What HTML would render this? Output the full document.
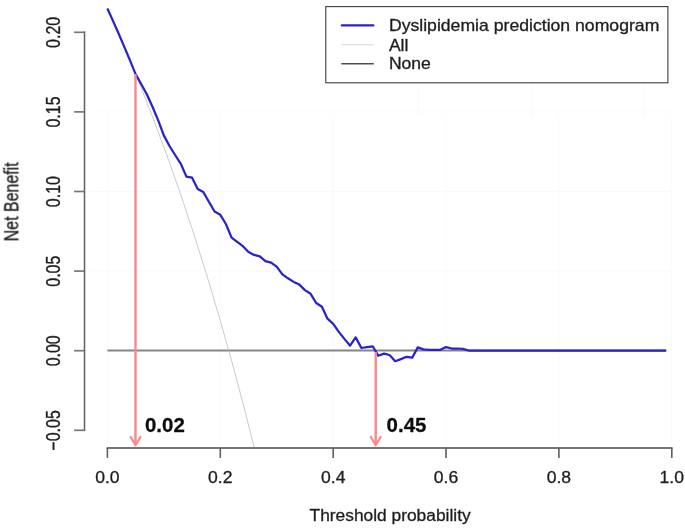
<!DOCTYPE html>
<html><head><meta charset="utf-8"><title>Decision curve</title>
<style>html,body{margin:0;padding:0;background:#fff;}body{width:685px;height:530px;overflow:hidden;font-family:"Liberation Sans",sans-serif;}svg{display:block;}</style>
</head><body>
<svg width="685" height="530" viewBox="0 0 685 530" font-family="Liberation Sans, sans-serif" fill="#1f1f1f" stroke="#1f1f1f" stroke-width="0.3">
<defs><filter id="soft" x="0" y="0" width="685" height="530" filterUnits="userSpaceOnUse"><feGaussianBlur stdDeviation="0.6"/></filter></defs>
<rect width="685" height="530" fill="#fff" stroke="none"/>
<g filter="url(#soft)">
<g stroke="#fafafa" stroke-width="1" fill="none">
<path d="M107.4,116 V447"/>
<path d="M220.3,116 V447"/>
<path d="M333.2,116 V447"/>
<path d="M446.0,116 V447"/>
<path d="M558.9,116 V447"/>
<path d="M671.8,116 V447"/>
<path d="M418.5,84 V116"/>
<path d="M531.4,84 V116"/>
<path d="M644.3,84 V116"/>
<path d="M90,111.9 H673"/>
<path d="M90,191.5 H673"/>
<path d="M90,271.1 H673"/>
</g>
<line x1="107.4" y1="350.6" x2="666.2" y2="350.6" stroke="#858585" stroke-width="2.0"/>
<polyline points="107.4,8.3 110.2,14.6 113.0,20.9 115.9,27.3 118.7,33.8 121.5,40.3 124.3,46.9 127.2,53.6 130.0,60.4 132.8,67.2 135.6,74.1 138.4,81.0 141.3,88.1 144.1,95.2 146.9,102.4 149.7,109.6 152.6,117.0 155.4,124.4 158.2,131.9 161.0,139.5 163.8,147.2 166.7,154.9 169.5,162.8 172.3,170.7 175.1,178.7 178.0,186.8 180.8,195.0 183.6,203.3 186.4,211.7 189.2,220.2 192.1,228.8 194.9,237.5 197.7,246.4 200.5,255.3 203.3,264.3 206.2,273.4 209.0,282.6 211.8,292.0 214.6,301.5 217.5,311.0 220.3,320.7 223.1,330.6 225.9,340.5 228.7,350.6 231.6,360.8 234.4,371.1 237.2,381.6 240.0,392.2 242.9,403.0 245.7,413.9 248.5,424.9 251.3,436.1 254.0,447.0" fill="none" stroke="#b8b8b8" stroke-width="0.75"/>
<polyline points="107.4,8.5 113.0,20.9 118.7,33.8 124.3,46.9 130.0,60.4 135.6,74.1 141.3,84.2 146.9,94.5 152.6,107.0 158.2,120.4 163.8,135.4 169.5,146.0 175.1,155.0 180.8,163.8 186.4,176.6 192.1,177.7 197.7,188.9 203.3,192.0 209.0,202.0 214.6,211.5 220.3,214.8 225.9,224.0 231.6,237.6 237.2,241.8 242.9,246.2 248.5,252.0 254.1,254.9 259.8,256.4 265.4,261.1 271.1,262.7 276.7,266.6 282.4,274.3 288.0,278.3 293.7,281.9 299.3,284.6 304.9,290.1 310.6,293.8 316.2,303.0 321.9,306.7 327.5,318.7 333.2,323.8 338.8,331.9 344.4,338.9 350.1,345.7 355.7,337.4 361.4,348.0 367.0,347.1 372.7,346.3 378.3,355.8 384.0,353.6 389.6,355.0 395.2,361.2 400.9,359.1 406.5,356.8 412.2,357.7 417.8,347.4 423.5,349.4 429.1,349.8 434.8,349.9 440.4,349.8 446.0,347.1 451.7,348.5 457.3,348.5 463.0,348.8 468.6,350.5 474.3,350.5 479.9,350.5 485.5,350.5 491.2,350.5 496.8,350.5 502.5,350.5 508.1,350.5 513.8,350.5 519.4,350.5 525.1,350.5 530.7,350.5 536.3,350.5 542.0,350.5 547.6,350.5 553.3,350.5 558.9,350.5 564.6,350.5 570.2,350.5 575.9,350.5 581.5,350.5 587.1,350.5 592.8,350.5 598.4,350.5 604.1,350.5 609.7,350.5 615.4,350.5 621.0,350.5 626.6,350.5 632.3,350.5 637.9,350.5 643.6,350.5 649.2,350.5 654.9,350.5 660.5,350.5 666.2,350.5" fill="none" stroke="#2a20cc" stroke-width="2.25" stroke-linejoin="round" stroke-linecap="butt"/>
<line x1="135.5" y1="74.0" x2="135.5" y2="445.0" stroke="#fc8787" stroke-width="2.4"/>
<polyline points="130.6,437.0 135.5,445.3 140.4,437.0" fill="none" stroke="#fc8787" stroke-width="2.2" stroke-linejoin="round" stroke-linecap="round"/>
<line x1="375.7" y1="352.0" x2="375.7" y2="445.0" stroke="#fc8787" stroke-width="2.4"/>
<polyline points="370.8,437.0 375.7,445.3 380.59999999999997,437.0" fill="none" stroke="#fc8787" stroke-width="2.2" stroke-linejoin="round" stroke-linecap="round"/>
<g fill="none">
<path d="M84.5,31.5 V431.1" stroke="#5e5e5e" stroke-width="1.5"/>
<path d="M74.1,32.3 H85.2" stroke="#747474" stroke-width="1.65"/>
<path d="M74.1,111.9 H85.2" stroke="#747474" stroke-width="1.65"/>
<path d="M74.1,191.5 H85.2" stroke="#747474" stroke-width="1.65"/>
<path d="M74.1,271.1 H85.2" stroke="#747474" stroke-width="1.65"/>
<path d="M74.1,350.7 H85.2" stroke="#747474" stroke-width="1.65"/>
<path d="M74.1,430.3 H85.2" stroke="#747474" stroke-width="1.65"/>
<path d="M106.65,448.0 H672.55" stroke="#747474" stroke-width="2.0"/>
<path d="M107.4,448.0 V457.9" stroke="#5e5e5e" stroke-width="1.6"/>
<path d="M220.3,448.0 V457.9" stroke="#5e5e5e" stroke-width="1.6"/>
<path d="M333.2,448.0 V457.9" stroke="#5e5e5e" stroke-width="1.6"/>
<path d="M446.0,448.0 V457.9" stroke="#5e5e5e" stroke-width="1.6"/>
<path d="M558.9,448.0 V457.9" stroke="#5e5e5e" stroke-width="1.6"/>
<path d="M671.8,448.0 V457.9" stroke="#5e5e5e" stroke-width="1.6"/>
</g>
<text transform="translate(107.4,482.8) scale(1.0980,1)" font-size="16" text-anchor="middle" >0.0</text>
<text transform="translate(220.3,482.8) scale(1.0980,1)" font-size="16" text-anchor="middle" >0.2</text>
<text transform="translate(333.2,482.8) scale(1.0980,1)" font-size="16" text-anchor="middle" >0.4</text>
<text transform="translate(446.0,482.8) scale(1.0980,1)" font-size="16" text-anchor="middle" >0.6</text>
<text transform="translate(558.9,482.8) scale(1.0980,1)" font-size="16" text-anchor="middle" >0.8</text>
<text transform="translate(671.8,482.8) scale(1.0980,1)" font-size="16" text-anchor="middle" >1.0</text>
<text transform="translate(60.0,32.4) scale(1.22,1) rotate(-90)" font-size="16" text-anchor="middle">0.20</text>
<text transform="translate(60.0,112.0) scale(1.22,1) rotate(-90)" font-size="16" text-anchor="middle">0.15</text>
<text transform="translate(60.0,191.6) scale(1.22,1) rotate(-90)" font-size="16" text-anchor="middle">0.10</text>
<text transform="translate(60.0,271.2) scale(1.22,1) rotate(-90)" font-size="16" text-anchor="middle">0.05</text>
<text transform="translate(60.0,350.8) scale(1.22,1) rotate(-90)" font-size="16" text-anchor="middle">0.00</text>
<text transform="translate(60.0,430.4) scale(1.22,1) rotate(-90)" font-size="16" text-anchor="middle">−0.05</text>
<text transform="translate(17.8,201.8) scale(1.22,1) rotate(-90)" font-size="16" text-anchor="middle">Net Benefit</text>
<text transform="translate(390.1,521.3) scale(1.0848,1)" font-size="16" text-anchor="middle" >Threshold probability</text>
<rect x="325.8" y="6.6" width="342.1" height="76.2" fill="#fff" stroke="#3c3c3c" stroke-width="1.1"/>
<line x1="341.8" y1="25.4" x2="373.4" y2="25.4" stroke="#2a20cc" stroke-width="2.2" stroke-linecap="round"/>
<line x1="341.5" y1="44.8" x2="373.8" y2="44.8" stroke="#d2d2d2" stroke-width="0.9"/>
<line x1="341.3" y1="63.7" x2="373.8" y2="63.7" stroke="#505050" stroke-width="1.5"/>
<text transform="translate(388.9,31.4) scale(1.1235,1)" font-size="15.7" text-anchor="start" >Dyslipidemia prediction nomogram</text>
<text transform="translate(388.9,50.9) scale(1.1190,1)" font-size="15.7" text-anchor="start" >All</text>
<text transform="translate(388.9,69.4) scale(1.1190,1)" font-size="15.7" text-anchor="start" >None</text>
<text x="145.0" y="431.6" font-size="20.8" font-weight="bold" fill="#0a0a0a" textLength="39.8" lengthAdjust="spacingAndGlyphs">0.02</text>
<text x="386.6" y="431.6" font-size="20.8" font-weight="bold" fill="#0a0a0a" textLength="39.8" lengthAdjust="spacingAndGlyphs">0.45</text>
</g>
</svg>
</body></html>
